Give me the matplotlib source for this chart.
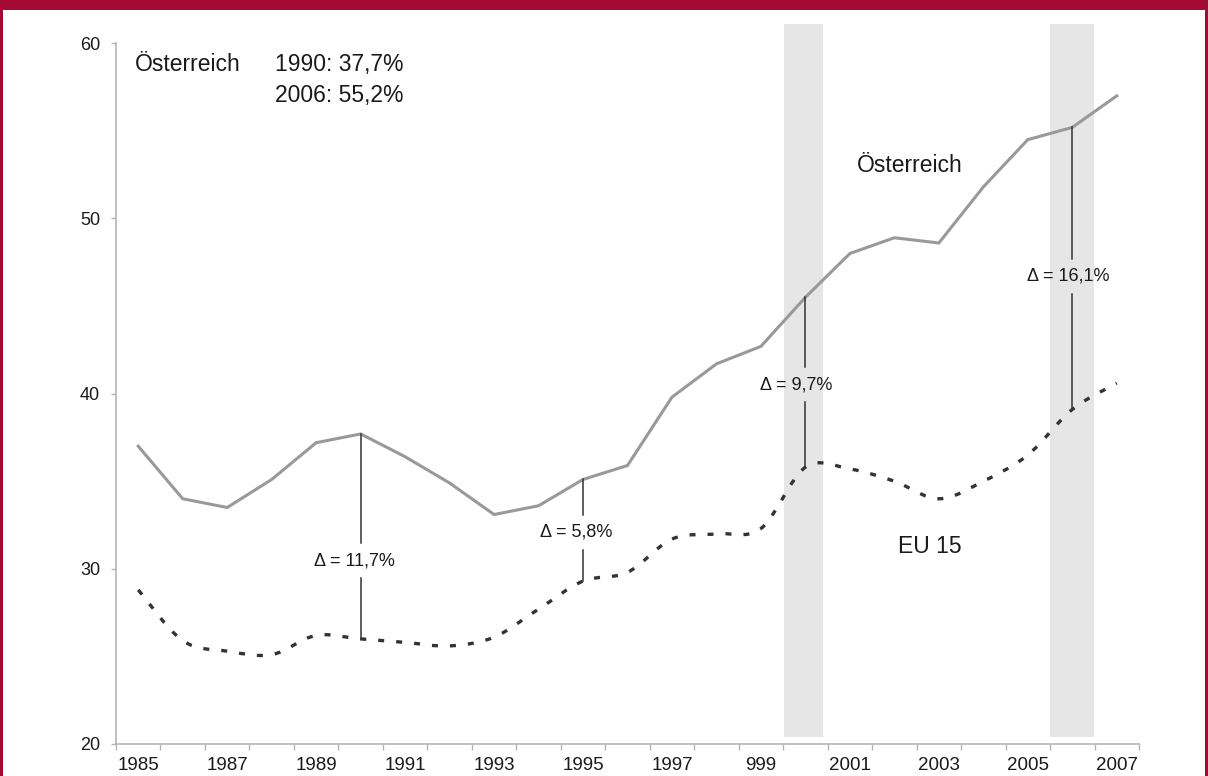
import numpy as np
import matplotlib
matplotlib.use("Agg")
import matplotlib.pyplot as plt
from matplotlib.path import Path
from matplotlib.patches import PathPatch, Rectangle

plt.rcParams['font.family'] = ['Liberation Sans', 'DejaVu Sans']

years = list(range(1985, 2008))
oesterreich = [37.0, 34.0, 33.5, 35.1, 37.2, 37.7, 36.4, 34.9, 33.1, 33.6, 35.1, 35.9,
               39.8, 41.7, 42.7, 45.5, 48.0, 48.9, 48.6, 51.8, 54.5, 55.2, 57.0]
eu15 = [28.8, 25.9, 25.3, 25.1, 26.2, 26.0, 25.8, 25.6, 26.1, 27.7, 29.3, 29.8,
        31.7, 32.0, 32.3, 35.8, 35.7, 35.0, 34.0, 35.0, 36.5, 39.1, 40.6]
tick_labels = ["1985", "1987", "1989", "1991", "1993", "1995", "1997", "999",
               "2001", "2003", "2005", "2007"]
delta_years = [1990, 1995, 2000, 2006]
delta_labels = ["\u0394 = 11,7%", "\u0394 = 5,8%", "\u0394 = 9,7%", "\u0394 = 16,1%"]
band_years = [2000, 2006]

RED = '#a30b36'
GREY_LINE = '#999999'
DARK = '#333333'
AXIS = '#b5b5b5'
TXT = '#1a1a1a'


def smooth_path(xs, ys):
    # catmull-rom through the points, as cubic bezier segments
    pts = np.column_stack([xs, ys]).astype(float)
    p = np.vstack([pts[0], pts, pts[-1]])
    verts = [tuple(pts[0])]
    codes = [Path.MOVETO]
    for i in range(1, len(p) - 2):
        c1 = p[i] + (p[i + 1] - p[i - 1]) / 6.0
        c2 = p[i + 1] - (p[i + 2] - p[i]) / 6.0
        verts += [tuple(c1), tuple(c2), tuple(p[i + 1])]
        codes += [Path.CURVE4] * 3
    return Path(verts, codes)


fig = plt.figure(figsize=(12.08, 7.76), dpi=100)
ax = fig.add_axes([116 / 1208, 32 / 776, 1023 / 1208, 700.7 / 776])

x = np.arange(len(years))

# shaded bands
for by, (x0, x1) in zip(band_years, [(-0.48, 0.40), (-0.5, 0.49)]):
    i = years.index(by)
    ax.axvspan(i + x0, i + x1, ymin=0.01, ymax=1.0275, color='#e6e6e6', lw=0,
               clip_on=False, zorder=0)

ax.plot(x, oesterreich, color=GREY_LINE, lw=2.2, zorder=3, solid_joinstyle='miter')

eu_patch = PathPatch(smooth_path(x, eu15), fill=False, ec=DARK, lw=2.4,
                     linestyle=(0, (1.8, 3.6)), capstyle='butt', zorder=3)
ax.add_patch(eu_patch)

# delta markers
text_offsets = [(-0.15, 30.45), (-0.15, 32.1), (-0.2, 40.5), (-0.1, 46.7)]
gap = 1.0
for yr, lab, (dx, ty) in zip(delta_years, delta_labels, text_offsets):
    i = years.index(yr)
    top = oesterreich[i]
    bot = eu15[i]
    ax.plot([i, i], [top, ty + gap], color=DARK, lw=1.1, zorder=4)
    ax.plot([i, i], [ty - gap, bot], color=DARK, lw=1.1, zorder=4)
    ax.text(i + dx, ty, lab, ha='center', va='center', fontsize=13, color=TXT, zorder=5)

ax.text(16.15, 52.67, "\u00d6sterreich", fontsize=16.5, color=TXT, va='baseline')
ax.text(17.8, 31.25, "EU 15", fontsize=16.5, color=TXT, ha='center', va='center')

ax.text(-0.07, 58.44, "\u00d6sterreich", fontsize=16.5, color=TXT, va='baseline')
ax.text(3.08, 58.44, "1990: 37,7%", fontsize=16.5, color=TXT, va='baseline')
ax.text(3.08, 56.67, "2006: 55,2%", fontsize=16.5, color=TXT, va='baseline')

ax.set_xlim(-0.5, len(years) - 0.5)
ax.set_ylim(20, 60)
ax.set_xticks(x[::2])
ax.set_xticklabels(tick_labels)
ax.set_xticks(np.arange(len(years) + 1) - 0.5, minor=True)
ax.tick_params(axis='x', which='major', length=0, pad=9, labelsize=13.5, colors=TXT)
ax.tick_params(axis='x', which='minor', length=4, width=1, color=AXIS)
ax.set_yticks([20, 30, 40, 50, 60])
ax.tick_params(axis='y', length=3.5, width=1, color=AXIS, labelsize=13, labelcolor=TXT, pad=8)

for s in ['top', 'right']:
    ax.spines[s].set_visible(False)
for s in ['left', 'bottom']:
    ax.spines[s].set_color(AXIS)
    ax.spines[s].set_linewidth(1.2)

# red frame
fig.patches.append(Rectangle((0, 1 - 10 / 776), 1, 10 / 776, transform=fig.transFigure,
                             color=RED, lw=0))
fig.patches.append(Rectangle((0, 0), 3 / 1208, 1, transform=fig.transFigure, color=RED, lw=0))
fig.patches.append(Rectangle((1 - 3 / 1208, 0), 3 / 1208, 1, transform=fig.transFigure,
                             color=RED, lw=0))

fig.savefig("out.png", dpi=100)
